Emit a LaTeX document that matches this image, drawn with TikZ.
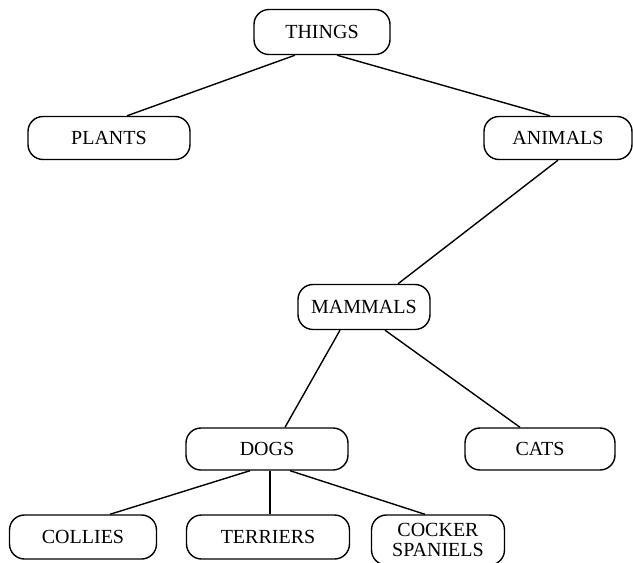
\documentclass[tikz,border=0pt]{standalone}
\usepackage{fontspec}
\setmainfont{Liberation Serif}
\begin{document}
\begin{tikzpicture}[x=1pt,y=-1pt,
  box/.style={draw, line width=1.4pt, rounded corners=15pt, inner sep=0pt,
    font=\fontsize{20}{20}\selectfont, align=center},
  edge/.style={line width=1.4pt}]
\useasboundingbox (0,0) rectangle (633,563);
\node[box, minimum width=136pt, minimum height=45pt] (things) at (322,32) {THINGS};
\node[box, minimum width=162pt, minimum height=43pt] (plants) at (109,138) {PLANTS};
\node[box, minimum width=148pt, minimum height=43pt] (animals) at (558,138) {ANIMALS};
\node[box, minimum width=132pt, minimum height=45pt] (mammals) at (364,307) {MAMMALS};
\node[box, minimum width=162pt, minimum height=42pt] (dogs) at (267,449) {DOGS};
\node[box, minimum width=150pt, minimum height=42pt] (cats) at (540,449) {CATS};
\node[box, minimum width=147pt, minimum height=44pt] (collies) at (83,537) {COLLIES};
\node[box, minimum width=163pt, minimum height=44pt] (terriers) at (268,537) {TERRIERS};
\node[box, minimum width=133pt, minimum height=50pt] (cocker) at (438,540) {COCKER\\SPANIELS};
\draw[edge] ([xshift=-27pt]things.south) -- ([xshift=18pt]plants.north);
\draw[edge] ([xshift=15pt]things.south) -- ([xshift=-8pt]animals.north);
\draw[edge] ([xshift=0pt]animals.south) -- ([xshift=34pt]mammals.north);
\draw[edge] ([xshift=-24pt]mammals.south) -- ([xshift=18pt]dogs.north);
\draw[edge] ([xshift=21pt]mammals.south) -- ([xshift=-20pt]cats.north);
\draw[edge] ([xshift=-17pt]dogs.south) -- ([xshift=27pt]collies.north);
\draw[edge] ([xshift=3pt]dogs.south) -- ([xshift=2pt]terriers.north);
\draw[edge] ([xshift=23pt]dogs.south) -- ([xshift=-13pt]cocker.north);
\end{tikzpicture}
\end{document}
